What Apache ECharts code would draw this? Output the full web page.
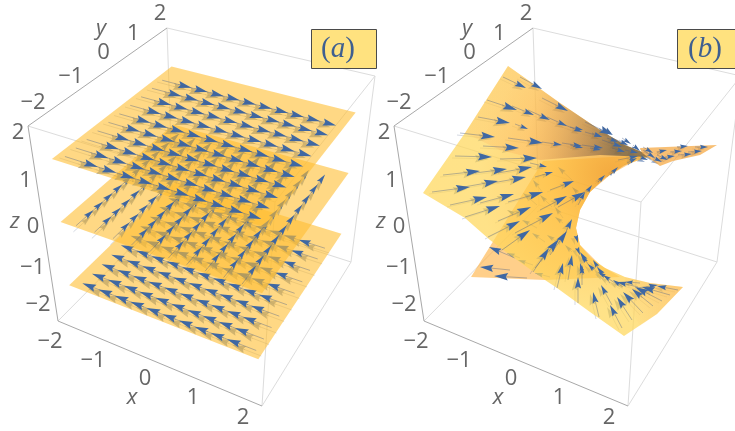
<!DOCTYPE html>
<html>
<head>
<meta charset="utf-8">
<style>
  html, body { margin: 0; padding: 0; background: #fff; }
  #chart { width: 735px; height: 431px; }
</style>
</head>
<body>
<div id="chart"></div>
<script src="https://cdn.jsdelivr.net/npm/echarts@6/dist/echarts.min.js"></script>
<script>
// tick labels
const tickValues = [-2, -1, 0, 1, 2]
const tickLabels = ['\u22122', '\u22121', '0', '1', '2']

// panel (a): three flat sheets, arrow tails in x, y, z units
const sheetExtent = [-1.8, 1.8]
const sheetLevels = [-1.3, 0, 1.3]
const topTailX = [-1.68, -1.37, -1.06, -0.76, -0.45, -0.14, 0.17, 0.47, 0.78, 1.09]
const topTailY = [-1.62, -1.29, -0.96, -0.63, -0.30, 0.03, 0.36, 0.69, 1.02, 1.33]
const midTailX = [-1.55, -1.22, -0.89, -0.56, -0.23, 0.10, 0.43, 0.76, 1.09, 1.42]
const midTailY = [-1.75, -1.44, -1.13, -0.82, -0.51, -0.20, 0.11, 0.42, 0.73, 1.04]
const lowTailX = [-1.09, -0.78, -0.47, -0.17, 0.14, 0.45, 0.76, 1.06, 1.37, 1.68]
const lowTailY = [-1.62, -1.29, -0.96, -0.63, -0.30, 0.03, 0.36, 0.69, 1.02, 1.33]
const arrowLength = 0.56

// panel (b): surface, in plot units
const backSheet = [[471,277],[543,161],[645,155],[610,175],[590,192],[580,210],[576,228],[580,245],[600,265],[620,277],[545,280]]
const frontSheet = [[508,66],[525,78],[560,103],[600,130],[625,145],[642,152],[648,157],[625,165],[605,178],[590,192],[580,210],[576,228],[580,245],[590,257],[605,268],[625,277],[650,283],[683,287],[657,314],[624,336],[590,312],[557,288],[545,280],[510,255],[490,240],[465,218],[423,193],[465,133]]
const topShade = [[508,66],[525,78],[560,103],[600,130],[625,145],[642,152],[648,157],[600,155],[540,160],[500,150],[465,133]]
const cornerTint = [[625,277],[650,283],[683,287],[657,314],[640,326],[625,300]]
const flareSheet = [[640,148],[717,145],[700,155],[673,161],[660,166],[642,153]]

// tail x, tail y, tip x, tip y
const backArrows = [
  [510,270,480,267],[527,278,494,276],[515,258,489,247],[537,205,523,193],[552,207,540,195],
  [520,217,507,210],[537,228,522,220],[545,242,532,233],[557,242,547,235],[563,223,555,217],
  [520,258,507,253],[533,265,518,260],[550,277,535,273],[572,252,565,245],[543,193,533,180],
  [563,218,555,207],[572,180,558,167],[580,195,572,187]
]
const frontArrows = [
  [503,77,526,88],[520,77,542,89],[542,98,568,111],[487,100,517,110],[512,106,534,115],
  [528,110,550,120],[547,117,567,126],[565,125,582,132],[585,132,602,137],[585,122,613,135],
  [478,117,510,123],[515,124,528,129],[460,133,495,137],[508,138,543,143],[542,142,562,145],
  [562,143,582,146],[582,145,603,148],[602,140,622,147],[612,138,628,145],[483,146,519,148],
  [455,156,492,157],[500,159,537,158],[443,175,480,171],[475,173,507,169],[498,173,532,167],
  [530,163,547,167],[432,192,470,187],[458,188,498,181],[492,183,526,177],[450,205,487,197],
  [480,203,514,194],[465,217,500,206],[508,202,543,192],[535,177,553,172],[498,221,531,207],
  [488,237,520,221],[515,233,553,213],[540,210,567,196],[550,190,574,181],[558,207,585,192],
  [502,250,530,230],[533,272,549,248],[535,268,559,239],[557,288,563,263],[568,280,572,255],
  [578,303,578,277],[582,285,582,265],[550,255,567,231],[562,240,572,219],[599,317,593,292],
  [622,328,610,305],[632,320,617,297],[643,313,623,292],[612,305,601,285],[653,306,632,289],
  [662,301,635,287],[670,295,642,287],[678,290,657,286],[592,270,580,252],[583,275,580,263],
  [603,275,593,260],[610,283,597,267],[618,285,603,275],[623,287,613,280],[638,287,617,282],
  [640,283,625,282],[637,288,658,285],[610,175,618,167],[598,182,605,175],[587,192,592,185],
  [578,205,585,192],[627,163,637,158],[618,160,638,156],[640,157,648,160],[643,147,653,153],
  [603,127,612,134],[607,138,618,142],[622,138,631,144],[633,145,640,151],[612,148,625,152],
  [592,133,602,137],[590,148,601,150],[570,127,583,130],[570,145,583,148],[625,150,638,153],
  [695,147,708,147],[677,147,688,146],[688,152,702,151],[670,152,682,151],[678,155,692,154],
  [657,152,667,150],[665,157,675,156],[657,155,668,160],[652,157,662,162],[643,150,655,158],
  [576,236,578,243],[578,250,580,255],[586,262,582,255],[594,270,588,264],[606,277,598,272]
]

// layout of the drawing
const panelShift = [0, 366]
const boxCorners = {
  '-2,-2,2': [28, 126], '-2,-2,-2': [58, 321], '2,-2,2': [275, 202], '2,-2,-2': [262, 406],
  '-2,2,2': [167, 28], '-2,2,-2': [173, 205], '2,2,2': [375, 76], '2,2,-2': [351, 262]
}
const xTickNudge = [[-8, 21], [-16, 18], [-15, 15], [-18, 13], [-19, 12]]
const yTickNudge = [[5, -23], [8, -25], [6, -24], [1, -19], [-7, -14]]
const zTickNudge = [[-20, -16], [-18, -5], [-10, 3], [-10, 6], [-10, 7]]
const axisNames = [['x', 132, 398], ['y', 101, 29], ['z', 15, 222]]
const panelTags = [['a', 311, 338], ['b', 677, 705]]

const sheetColor = 'rgba(255,190,50,0.6)'
const arrowBlue = '#3f68a3'
const shaftBlue = 'rgba(75,95,135,0.5)'
const underBlue = 'rgba(63,104,163,0.6)'
const underShaft = 'rgba(75,95,135,0.3)'

function lerp(a, b, t) { return [a[0] + (b[0] - a[0]) * t, a[1] + (b[1] - a[1]) * t] }

// trilinear map of the box corners onto the plot plane
function project(x, y, z, shift) {
  const tx = (x + 2) / 4, ty = (y + 2) / 4, tz = (z + 2) / 4
  const c = (a, b, d) => boxCorners[a + ',' + b + ',' + d]
  const low = lerp(lerp(c(-2, -2, -2), c(2, -2, -2), tx), lerp(c(-2, 2, -2), c(2, 2, -2), tx), ty)
  const high = lerp(lerp(c(-2, -2, 2), c(2, -2, 2), tx), lerp(c(-2, 2, 2), c(2, 2, 2), tx), ty)
  const p = lerp(low, high, tz)
  return [p[0] + shift, p[1]]
}

function renderAll(params, api) {
  const kids = []
  const at = p => api.coord(p)
  const poly = (pts, fill) => kids.push({ type: 'polygon', shape: { points: pts.map(at) }, style: { fill: fill } })
  const line = (a, b, stroke, width) => {
    const p = at(a), q = at(b)
    kids.push({ type: 'line', shape: { x1: p[0], y1: p[1], x2: q[0], y2: q[1] }, style: { stroke: stroke, lineWidth: width || 1 } })
  }
  const label = (text, p, size, italic) => {
    const q = at(p)
    kids.push({ type: 'text', x: q[0], y: q[1], style: {
      text: text, fill: '#666', font: (italic ? 'italic ' : '') + size + 'px "Open Sans"', align: 'center', verticalAlign: 'middle'
    } })
  }
  const arrow = (tail, tip, blue, shaft) => {
    const dx = tip[0] - tail[0], dy = tip[1] - tail[1]
    const len = Math.hypot(dx, dy)
    const h = Math.min(14, Math.max(8, len * 0.44))
    const ux = dx / len, uy = dy / len, w = h * 0.27
    const bx = tip[0] - ux * h, by = tip[1] - uy * h
    const nx = tip[0] - ux * h * 0.85, ny = tip[1] - uy * h * 0.85
    line(tail, [nx, ny], shaft, 0.8)
    poly([tip, [bx - uy * w, by + ux * w], [nx, ny], [bx + uy * w, by - ux * w]], blue)
  }

  panelShift.forEach(shift => {
    const light = '#dcdcdc', dark = '#a8a8a8'
    const edge = (a, b, color) => line(project(a[0], a[1], a[2], shift), project(b[0], b[1], b[2], shift), color)
    edge([-2, 2, 2], [2, 2, 2], light)
    edge([-2, -2, 2], [2, -2, 2], light)
    edge([2, -2, 2], [2, 2, 2], light)
    edge([-2, 2, 2], [-2, 2, -2], light)
    edge([2, -2, 2], [2, -2, -2], light)
    edge([2, 2, 2], [2, 2, -2], light)
    edge([-2, -2, -2], [-2, 2, -2], light)
    edge([-2, 2, -2], [2, 2, -2], light)
    edge([2, -2, -2], [2, 2, -2], light)
    edge([-2, -2, 2], [-2, 2, 2], dark)
    edge([-2, -2, 2], [-2, -2, -2], dark)
    edge([-2, -2, -2], [2, -2, -2], dark)
    tickValues.forEach((v, i) => {
      const xp = project(v, -2, -2, shift), yp = project(-2, v, 2, shift), zp = project(-2, -2, v, shift)
      label(tickLabels[i], [xp[0] + xTickNudge[i][0], xp[1] + xTickNudge[i][1]], 22)
      label(tickLabels[i], [yp[0] + yTickNudge[i][0], yp[1] + yTickNudge[i][1]], 22)
      label(tickLabels[i], [zp[0] + zTickNudge[i][0], zp[1] + zTickNudge[i][1]], 22)
    })
    axisNames.forEach(n => label(n[0], [n[1] + shift, n[2]], 22, true))
  })

  // panel (a), lowest sheet first so the upper ones tint it
  const flat = (level, tailsX, tailsY, dir) => {
    const [a, b] = sheetExtent
    const each = (offZ, back, blue, shaft) => tailsY.forEach(y => tailsX.forEach(x => {
      const sx = x - dir[0] * back, sy = y - dir[1] * back
      arrow(project(sx, sy, level + offZ, 0),
        project(sx + dir[0] * arrowLength, sy + dir[1] * arrowLength, level + offZ, 0), blue, shaft)
    }))
    each(-0.07, 0.1, underBlue, underShaft)
    poly([[a, a], [b, a], [b, b], [a, b]].map(c => project(c[0], c[1], level, 0)), sheetColor)
    each(0, 0, arrowBlue, shaftBlue)
  }
  flat(sheetLevels[0], lowTailX, lowTailY, [-1, 0])
  flat(sheetLevels[1], midTailX, midTailY, [0, 1])
  flat(sheetLevels[2], topTailX, topTailY, [1, 0])

  // panel (b)
  const arrowOf = (r, ox, oy, blue, shaft) => arrow([r[0] + ox, r[1] + oy], [r[2] + ox, r[3] + oy], blue, shaft)
  poly(backSheet, 'rgba(255,175,60,0.6)')
  backArrows.forEach(r => arrowOf(r, 0, 0, arrowBlue, shaftBlue))
  frontArrows.forEach(r => arrowOf(r, -3, 2, underBlue, underShaft))
  const c0 = at([612, 175])
  poly(frontSheet, new echarts.graphic.RadialGradient(c0[0], c0[1], 135, [
    { offset: 0, color: 'rgba(240,160,45,0.8)' },
    { offset: 0.45, color: 'rgba(255,195,65,0.75)' },
    { offset: 1, color: 'rgba(255,215,90,0.72)' }
  ], true))
  const s0 = at([470, 110]), s1 = at([620, 135])
  poly(topShade, new echarts.graphic.LinearGradient(s0[0], s0[1], s1[0], s1[1], [
    { offset: 0, color: 'rgba(250,150,70,0.12)' },
    { offset: 0.4, color: 'rgba(250,150,80,0.22)' },
    { offset: 1, color: 'rgba(110,95,75,0.75)' }
  ], true))
  const t0 = at([625, 310]), t1 = at([680, 290])
  poly(cornerTint, new echarts.graphic.LinearGradient(t0[0], t0[1], t1[0], t1[1], [
    { offset: 0, color: 'rgba(250,150,80,0)' },
    { offset: 1, color: 'rgba(250,150,80,0.3)' }
  ], true))
  poly(flareSheet, 'rgba(245,170,70,0.75)')
  frontArrows.forEach(r => arrowOf(r, 0, 0, arrowBlue, shaftBlue))

  // panel tags
  panelTags.forEach(t => {
    const a = at([t[1], 29]), b = at([t[1] + 65, 68]), c = at([t[2], 49])
    kids.push({ type: 'rect', shape: { x: a[0] + 0.5, y: a[1] + 0.5, width: b[0] - a[0], height: b[1] - a[1] },
      style: { fill: '#ffe27f', stroke: '#4a4a4a', lineWidth: 1 } })
    kids.push({ type: 'text', x: c[0], y: c[1], style: {
      text: '{p|(}{i|' + t[0] + '}{p|)}', align: 'center', verticalAlign: 'middle',
      rich: {
        p: { font: '29px "Liberation Serif"', fill: '#3f5f90' },
        i: { font: 'italic 29px "Liberation Serif"', fill: '#3f5f90' }
      }
    } })
  })
  return { type: 'group', children: kids }
}

const chart = echarts.init(document.getElementById('chart'), null, { renderer: 'canvas' })
chart.setOption({
  animation: false,
  backgroundColor: '#fff',
  grid: { left: 0, right: 0, top: 0, bottom: 0 },
  xAxis: { type: 'value', min: 0, max: 735, show: false },
  yAxis: { type: 'value', min: 0, max: 431, inverse: true, show: false },
  series: [{ type: 'custom', coordinateSystem: 'cartesian2d', clip: false, silent: true, renderItem: renderAll, data: [[0, 0]] }]
})
</script>
</body>
</html>
